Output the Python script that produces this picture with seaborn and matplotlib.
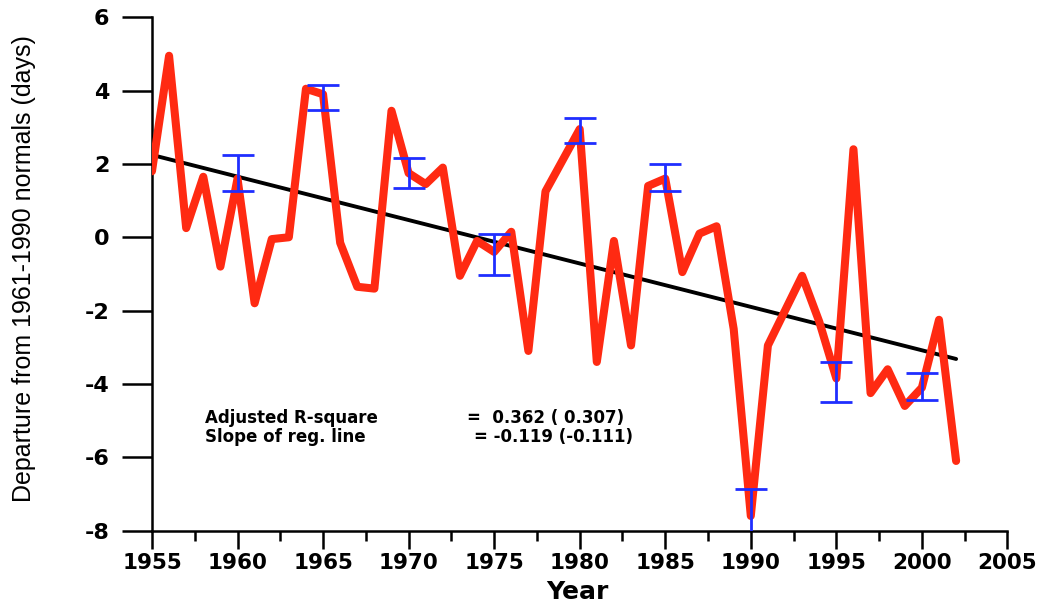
"""
plot.py
Growing-season departure series with regression line and sampled error bars.
"""

import numpy as np
import pandas as pd
import matplotlib
matplotlib.use("Agg")
import matplotlib.pyplot as plt
from matplotlib.ticker import MultipleLocator
import seaborn as sns

# Data
years = list(range(1955, 2003))
departure = [
    1.8, 4.95, 0.25, 1.65, -0.8, 1.6, -1.8, -0.05, 0.0, 4.05,
    3.9, -0.15, -1.35, -1.4, 3.45, 1.75, 1.45, 1.9, -1.05, -0.1,
    -0.4, 0.15, -3.1, 1.25, 2.1, 2.95, -3.4, -0.1, -2.95, 1.4,
    1.6, -0.95, 0.1, 0.3, -2.5, -7.6, -2.95, -2.0, -1.05, -2.3,
    -3.85, 2.4, -4.25, -3.6, -4.6, -4.1, -2.25, -6.1,
]

err_years = [1960, 1965, 1970, 1975, 1980, 1985, 1990, 1995, 2000]
err_center = [1.75, 3.8, 1.74, -0.47, 2.9, 1.62, -7.5, -3.95, -4.08]
err_half = [0.5, 0.34, 0.41, 0.57, 0.34, 0.37, 0.64, 0.55, 0.37]

stats_labels = ["Adjusted R-square", "Slope of reg. line"]
stats_values = ["=  0.362 ( 0.307)", "= -0.119 (-0.111)"]

x_ticks = list(range(1955, 2010, 5))
y_ticks = list(range(-8, 8, 2))

RED = "#ff2a12"
BLUE = "#1f2eff"


def main():
    sns.set_theme(style="ticks")
    plt.rcParams["font.family"] = ["DejaVu Sans"]
    plt.rcParams["axes.unicode_minus"] = False

    df = pd.DataFrame({"year": years, "departure": departure})

    fig = plt.figure(figsize=(10.48, 6.03), dpi=100)
    ax = fig.add_axes([0.145, 0.12, 0.8163, 0.8514])

    # regression line (fit of the series)
    sns.regplot(data=df, x="year", y="departure", scatter=False, ci=None,
                truncate=True, color="black", line_kws={"lw": 2.8}, ax=ax)

    # main series
    sns.lineplot(data=df, x="year", y="departure", color=RED, lw=5.8,
                 ax=ax, zorder=3)

    # error bars
    ax.errorbar(err_years, err_center, yerr=err_half, fmt="none",
                ecolor=BLUE, elinewidth=2.0, capsize=11.5, capthick=2.0,
                zorder=4)

    # stats text
    for i, (lab, val) in enumerate(zip(stats_labels, stats_values)):
        y = -4.94 - 0.52 * i
        ax.text(1958.1, y, lab, fontsize=12, fontweight="bold",
                va="center", ha="left", color="black")
        ax.text(1973.4 + 0.4 * i, y, val, fontsize=12, fontweight="bold",
                va="center", ha="left", color="black")

    ax.set_xlim(1955, 2005)
    ax.set_ylim(-8, 6)
    ax.set_xticks(x_ticks)
    ax.set_yticks(y_ticks)
    ax.xaxis.set_minor_locator(MultipleLocator(2.5))

    sns.despine(ax=ax)
    for side in ["left", "bottom"]:
        ax.spines[side].set_linewidth(1.8)
        ax.spines[side].set_color("black")

    ax.tick_params(axis="y", which="major", direction="out", length=21.5,
                   width=1.8, pad=9, labelsize=16, colors="black")
    ax.tick_params(axis="x", which="major", direction="out", length=13,
                   width=1.8, pad=3, labelsize=15.5, colors="black")
    ax.tick_params(axis="x", which="minor", direction="out", length=7,
                   width=1.8, colors="black")
    for lab in ax.get_xticklabels() + ax.get_yticklabels():
        lab.set_fontweight("bold")

    ax.set_xlabel("Year", fontsize=18, fontweight="bold", color="black",
                  va="top")
    ax.xaxis.set_label_coords(0.497, -0.097)
    ax.set_ylabel("Departure from 1961-1990 normals (days)", fontsize=18,
                  family=["Liberation Sans", "DejaVu Sans"], color="black")
    ax.yaxis.set_label_coords(-0.135, 0.51)

    fig.savefig("out.png", dpi=100, facecolor="white")


if __name__ == "__main__":
    main()
